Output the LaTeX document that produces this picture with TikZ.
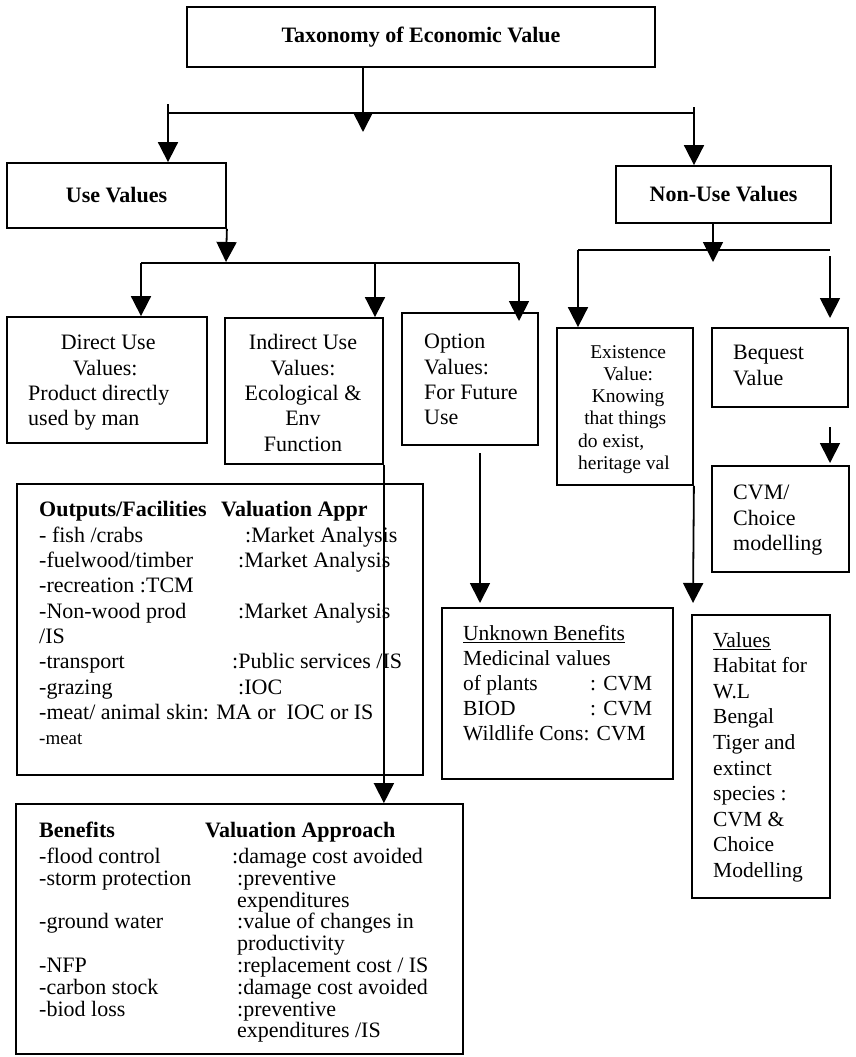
\documentclass[tikz,border=0pt]{standalone}
\usepackage{fontspec}
\setmainfont{Liberation Serif}
\usetikzlibrary{arrows.meta}
\newcommand\fsA{\fontsize{22}{25.3}\selectfont}
\newcommand\fsB{\fontsize{22}{21.8}\selectfont}
\newcommand\fsC{\fontsize{19.5}{22.2}\selectfont}
\newcommand\fsD{\fontsize{21.5}{25}\selectfont}
\newcommand\fsE{\fontsize{21.5}{25.6}\selectfont}
\begin{document}
\begin{tikzpicture}[x=1pt,y=-1pt,
  box/.style={draw, line width=1.8pt, inner sep=0pt},
  ln/.style={line width=1.8pt},
  arr/.style={line width=1.8pt, -{Triangle[width=20pt,length=20pt]}},
  txt/.style={anchor=north west, inner sep=0pt, align=left, font=\fsA},
  ]
\useasboundingbox (0,0) rectangle (856,1057);
\fill[white] (0,0) rectangle (856,1057);

% boxes
\node[box, minimum width=468, minimum height=60, font=\bfseries\fsA] (top) at (421,37) {Taxonomy of Economic Value};
\node[box, minimum width=219, minimum height=65, font=\bfseries\fsA] (use) at (116.5,195.5) {Use Values};
\node[box, minimum width=215, minimum height=57, font=\bfseries\fsA] (nonuse) at (723.5,194.5) {Non-Use Values};
\node[box, minimum width=200, minimum height=126] (direct) at (107,380) {};
\node[box, minimum width=158, minimum height=146] (indirect) at (304,391) {};
\node[box, minimum width=136, minimum height=132] (option) at (470,379) {};
\node[box, minimum width=136, minimum height=157] (exist) at (625,406.5) {};
\node[box, minimum width=136, minimum height=79] (bequest) at (780,367.5) {};
\node[box, minimum width=137, minimum height=106] (cvm) at (780.5,519) {};
\node[box, minimum width=138, minimum height=283] (vals) at (761,756.5) {};
\node[box, minimum width=231, minimum height=171] (unknown) at (557.5,693.5) {};
\node[box, minimum width=406, minimum height=291] (outputs) at (220,629.5) {};
\node[box, minimum width=447, minimum height=250] (benefits) at (239.5,929) {};

% texts
\node[txt] (dtx) at (28,332) {\strut\makebox[160pt]{Direct Use}\\\makebox[154pt]{Values:}\\Product directly\\used by man};
\node[txt, anchor=north, align=center] (itx) at (303,332) {\strut Indirect Use\\Values:\\Ecological \&\\Env\\Function};
\node[txt] (otx) at (424,331) {\strut Option\\Values:\\For Future\\Use};
\node[txt, font=\fsC] (etx) at (578,342.5) {\strut\makebox[100pt]{Existence}\\\makebox[100pt]{Value:}\\\makebox[100pt]{Knowing}\\\makebox[94pt]{that things}\\do exist,\\heritage val};
\node[txt] (btx) at (733,342) {\strut Bequest\\Value};
\node[txt] (ctx) at (733,482) {\strut CVM/\\Choice\\modelling};
\node[txt, font=\fsD] (utx) at (463,622.5) {\strut\underline{Unknown Benefits}\\Medicinal values\\\makebox[127pt][l]{of plants}: CVM\\\makebox[127pt][l]{BIOD}: CVM\\Wildlife Cons: CVM};
\node[txt, font=\fsE] (vtx) at (713,629) {\strut\underline{Values}\\Habitat for\\W.L\\Bengal\\Tiger and\\extinct\\species :\\CVM \&\\Choice\\Modelling};
\node[txt] (outx) at (39,499) {\strut\textbf{\makebox[182pt][l]{Outputs/Facilities}Valuation Appr}\\
\makebox[206pt][l]{- fish /crabs}:Market Analysis\\
\makebox[199pt][l]{-fuelwood/timber}:Market Analysis\\
-recreation :TCM\\
\makebox[199pt][l]{-Non-wood prod}:Market Analysis\\
/IS\\
\makebox[193pt][l]{-transport}:Public services /IS\\
\makebox[199pt][l]{-grazing}:IOC\\
-meat/ animal skin: MA or\ \ IOC or IS\\
{\fontsize{19}{25.3}\selectfont -meat}};
\node[txt, font=\fsB] (bex) at (39,821.7) {\strut\textbf{\makebox[166pt][l]{Benefits}Valuation Approach}\\[3pt]
\makebox[193pt][l]{-flood control}:damage cost avoided\\
\makebox[198pt][l]{-storm protection}:preventive\\
\makebox[198pt][l]{}expenditures\\
\makebox[198pt][l]{-ground water}:value of changes in\\
\makebox[198pt][l]{}productivity\\
\makebox[198pt][l]{-NFP}:replacement cost / IS\\
\makebox[198pt][l]{-carbon stock}:damage cost avoided\\
\makebox[198pt][l]{-biod loss}:preventive\\
\makebox[198pt][l]{}expenditures /IS};

% connectors
\coordinate (j1) at (363,132);
\draw[arr] (top.south -| j1) -- (j1);
\coordinate (h1a) at (168,104);
\coordinate (h1b) at (694,107);
\coordinate (h1L) at (168,113);
\coordinate (h1R) at (694,113);
\draw[ln] (h1L) -- (h1R);
\draw[arr] (h1a) -- (h1a |- use.north);
\draw[arr] (h1b) -- (h1b |- nonuse.north);

\coordinate (j2) at (226,262);
\draw[arr] (use.south east) -- (j2);
\coordinate (h2L) at (141,263);
\coordinate (h2R) at (519,263);
\draw[ln] (h2L) -- (h2R);
\draw[arr] (h2L) -- (h2L |- direct.north);
\coordinate (v2) at (375,262);
\draw[arr] (v2) -- (v2 |- indirect.north);
\coordinate (o1) at (519,321);
\draw[arr] (h2R) -- (o1);

\coordinate (j3) at (713,262);
\draw[arr] (nonuse.south -| j3) -- (j3);
\coordinate (h3L) at (578,250);
\coordinate (h3R) at (830,250);
\draw[ln] (h3L) -- (h3R);
\draw[arr] (h3L) -- (h3L |- exist.north);
\coordinate (b0) at (830,256);
\coordinate (b1) at (830,318);
\draw[arr] (b0) -- (b1);
\coordinate (c0) at (830,427);
\coordinate (c1) at (830,463);
\draw[arr] (c0) -- (c1);
\coordinate (u0) at (480,453);
\coordinate (u1) at (480,603);
\draw[arr] (u0) -- (u1);
\coordinate (e1) at (693,603);
\draw[arr] (exist.south east) -- (e1);
\draw[arr] (indirect.south east) -- (indirect.south east |- benefits.north);
\end{tikzpicture}
\end{document}
